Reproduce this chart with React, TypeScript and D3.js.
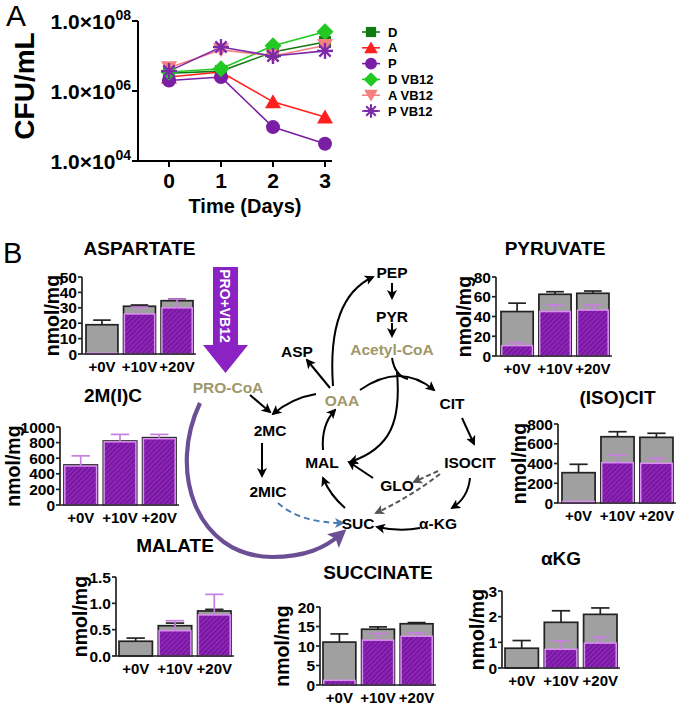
import React from "react";
import * as d3 from "d3";

// ---------- Panel A data ----------
const days = [0, 1, 2, 3];
const seriesNames = ["D", "A", "P", "D VB12", "A VB12", "P VB12"];
const cfuD = [3.2e6, 3.7e6, 1.3e7, 2.5e7];
const cfuA = [2.5e6, 3.5e6, 4.9e5, 1.8e5];
const cfuP = [2.0e6, 2.5e6, 9.3e4, 3.1e4];
const cfuDVB12 = [3.5e6, 4.3e6, 1.95e7, 4.9e7];
const cfuAVB12 = [4.6e6, 1.5e7, 1.0e7, 2.0e7];
const cfuPVB12 = [3.7e6, 1.8e7, 1.0e7, 1.4e7];
const yTickValues = [1e4, 1e6, 1e8];
const yTickExps = ["04", "06", "08"];

// ---------- Panel B data ----------
const groups = ["+0V", "+10V", "+20V"];

const aspTotal = [19, 31, 34.6];
const aspTotalSd = [3, 0.8, 1.2];
const aspLabeled = [0.5, 26, 30];
const aspLabeledSd = [0, 4.5, 5.7];
const aspTicks = [0, 10, 20, 30, 40, 50];

const pyrTotal = [45, 62.5, 63.5];
const pyrTotalSd = [8.5, 2.6, 2.3];
const pyrLabeled = [10.5, 45, 46.5];
const pyrLabeledSd = [3, 6.7, 5];
const pyrTicks = [0, 20, 40, 60, 80];

const micTotal = [513, 820, 863];
const micTotalSd = [0, 0, 0];
const micLabeled = [500, 810, 850];
const micLabeledSd = [130, 95, 55];
const micTicks = [0, 200, 400, 600, 800, 1000];

const citTotal = [307, 671, 665];
const citTotalSd = [85, 51, 41];
const citLabeled = [15, 408, 402];
const citLabeledSd = [0, 78, 51];
const citTicks = [0, 200, 400, 600, 800];

const malTotal = [0.28, 0.575, 0.855];
const malTotalSd = [0.06, 0.05, 0.03];
const malLabeled = [0, 0.48, 0.78];
const malLabeledSd = [0, 0.19, 0.39];
const malTicks = [0, 0.5, 1.0, 1.5];

const sucTotal = [11, 14.3, 15.7];
const sucTotalSd = [2.1, 0.6, 0.3];
const sucLabeled = [1.2, 11.5, 12.5];
const sucLabeledSd = [0, 1.7, 0.9];
const sucTicks = [0, 5, 10, 15, 20];

const akgTotal = [0.77, 1.78, 2.09];
const akgTotalSd = [0.3, 0.45, 0.25];
const akgLabeled = [0, 0.73, 0.97];
const akgLabeledSd = [0, 0.33, 0.23];
const akgTicks = [0, 1, 2, 3];

// ---------- styles ----------
const FONT = "'Liberation Sans', Arial, sans-serif";
const GRAY = "#a0a0a0";
const PURPLE_EDGE = "#dc90f2";
const PURPLE_ERR = "#c87ee0";
const OLIVE = "#a0976a";

const seriesStyles = [
  { color: "#127a12", symbol: "square" },
  { color: "#ff1f1f", symbol: "triangle" },
  { color: "#7a1fa3", symbol: "circle" },
  { color: "#22c922", symbol: "diamond" },
  { color: "#f58080", symbol: "triangleDown" },
  { color: "#7d2aaa", symbol: "asterisk" },
];
const seriesValues = [cfuD, cfuA, cfuP, cfuDVB12, cfuAVB12, cfuPVB12];

function Marker({ kind, color, x, y }: any) {
  if (kind === "square") return <rect x={x - 6} y={y - 6} width={12} height={12} fill={color} />;
  if (kind === "circle") return <circle cx={x} cy={y} r={7} fill={color} />;
  if (kind === "triangle")
    return <path d={`M${x},${y - 7.5} L${x + 8},${y + 6.5} L${x - 8},${y + 6.5}Z`} fill={color} />;
  if (kind === "triangleDown")
    return <path d={`M${x},${y + 7.5} L${x + 8},${y - 6.5} L${x - 8},${y - 6.5}Z`} fill={color} />;
  if (kind === "diamond")
    return <path d={`M${x},${y - 8.5} L${x + 8.5},${y} L${x},${y + 8.5} L${x - 8.5},${y}Z`} fill={color} />;
  const r = 8;
  return (
    <g stroke={color} strokeWidth={2.4}>
      {[0, 45, 90, 135].map((a) => {
        const rad = (a * Math.PI) / 180;
        return (
          <line key={a} x1={x - r * Math.cos(rad)} y1={y - r * Math.sin(rad)} x2={x + r * Math.cos(rad)} y2={y + r * Math.sin(rad)} />
        );
      })}
    </g>
  );
}

function PanelA() {
  const x = d3.scaleLinear().domain([0, 3]).range([169, 325]);
  const y = d3.scaleLog().domain([1e4, 1e8]).range([161, 21]);
  const line = d3
    .line<number>()
    .x((_, i) => x(days[i]))
    .y((d) => y(d));
  const axX = 138;
  return (
    <g>
      <text x={6} y={26} fontFamily={FONT} fontSize={30}>A</text>
      <line x1={axX} y1={y(1e8)} x2={axX} y2={y(1e4)} stroke="#000" strokeWidth={2} />
      <line x1={axX} y1={y(1e4)} x2={332} y2={y(1e4)} stroke="#000" strokeWidth={2} />
      {yTickValues.map((v, i) => (
        <g key={v}>
          <line x1={axX - 6} x2={axX} y1={y(v)} y2={y(v)} stroke="#000" strokeWidth={2} />
          <text x={axX - 7} y={y(v) + 7.5} textAnchor="end" fontFamily={FONT} fontWeight="bold" fontSize={21}>
            1.0×10
            <tspan dy={-9} fontSize={14}>{yTickExps[i]}</tspan>
          </text>
        </g>
      ))}
      {days.map((d) => (
        <g key={d}>
          <line x1={x(d)} x2={x(d)} y1={y(1e4)} y2={y(1e4) + 6} stroke="#000" strokeWidth={2} />
          <text x={x(d)} y={188} textAnchor="middle" fontFamily={FONT} fontWeight="bold" fontSize={21}>{d}</text>
        </g>
      ))}
      <text x={245} y={213} textAnchor="middle" fontFamily={FONT} fontWeight="bold" fontSize={20}>Time (Days)</text>
      <text transform="translate(34,86) rotate(-90)" textAnchor="middle" fontFamily={FONT} fontWeight="bold" fontSize={28}>CFU/mL</text>
      {seriesValues.map((vals, si) => (
        <path key={si} d={line(vals) || ""} fill="none" stroke={seriesStyles[si].color} strokeWidth={1.6} />
      ))}
      {seriesValues.map((vals, si) =>
        vals.map((v, i) => <Marker key={si + "-" + i} kind={seriesStyles[si].symbol} color={seriesStyles[si].color} x={x(days[i])} y={y(v)} />)
      )}
      {seriesNames.map((n, i) => {
        const ly = 32 + i * 15.8;
        return (
          <g key={n}>
            <line x1={362} x2={380} y1={ly} y2={ly} stroke={seriesStyles[i].color} strokeWidth={1.6} />
            <g transform={`translate(${371},${ly}) scale(0.85) translate(${-371},${-ly})`}>
              <Marker kind={seriesStyles[i].symbol} color={seriesStyles[i].color} x={371} y={ly} />
            </g>
            <text x={388} y={ly + 4.5} fontFamily={FONT} fontWeight="bold" fontSize={13}>{n}</text>
          </g>
        );
      })}
    </g>
  );
}

function BarPanel({ p }: any) {
  const y = d3.scaleLinear().domain([0, p.max]).range([p.y0, p.yT]);
  const x = d3.scaleBand<string>().domain(groups).range([p.b0, p.b1]).paddingInner(0.15).paddingOuter(0);
  const bw = x.bandwidth();
  const cap = bw * 0.55;
  const tx = p.titleX ?? (p.b0 + p.b1) / 2;
  return (
    <g>
      <text x={tx} y={p.titleY} textAnchor="middle" fontFamily={FONT} fontWeight="bold" fontSize={19}>{p.title}</text>
      <text transform={`translate(${p.ylabX},${(p.y0 + p.yT) / 2}) rotate(-90)`} textAnchor="middle" dy="0.35em" fontFamily={FONT} fontWeight="bold" fontSize={19.5}>nmol/mg</text>
      {groups.map((g, i) => {
        const bx = x(g) as number;
        const cx = bx + bw / 2;
        const t = p.total[i], ts = p.totalSd[i], l = p.lab[i], ls = p.labSd[i];
        return (
          <g key={g}>
            {ts > 0 && (
              <g stroke="#222" strokeWidth={1.7}>
                <line x1={cx} x2={cx} y1={y(t)} y2={y(t + ts)} />
                <line x1={cx - cap / 2} x2={cx + cap / 2} y1={y(t + ts)} y2={y(t + ts)} />
              </g>
            )}
            <rect x={bx} y={y(t)} width={bw} height={p.y0 - y(t)} fill={GRAY} stroke="#222" strokeWidth={1.7} />
            {l > 0 && (
              <rect x={bx + 0.8} y={y(l)} width={bw - 1.6} height={p.y0 - y(l)} fill="url(#hatch)" stroke={PURPLE_EDGE} strokeWidth={1.5} />
            )}
            {ls > 0 && (
              <g stroke={PURPLE_ERR} strokeWidth={1.7}>
                <line x1={cx} x2={cx} y1={y(l)} y2={y(l + ls)} />
                <line x1={cx - cap / 2} x2={cx + cap / 2} y1={y(l + ls)} y2={y(l + ls)} />
              </g>
            )}
            <text x={cx} y={p.y0 + 17.5} textAnchor="middle" fontFamily={FONT} fontWeight="bold" fontSize={15}>{g}</text>
          </g>
        );
      })}
      <line x1={p.ax} x2={p.ax} y1={p.yT} y2={p.y0} stroke="#222" strokeWidth={1.7} />
      <line x1={p.ax} x2={p.b1 + 3} y1={p.y0} y2={p.y0} stroke="#222" strokeWidth={1.7} />
      {p.ticks.map((t: number) => (
        <g key={t}>
          <line x1={p.ax - 4} x2={p.ax} y1={y(t)} y2={y(t)} stroke="#222" strokeWidth={1.7} />
          <text x={p.ax - 5} y={y(t)} dy="0.36em" textAnchor="end" fontFamily={FONT} fontWeight="bold" fontSize={15.5}>{p.fmt(t)}</text>
        </g>
      ))}
    </g>
  );
}

const intFmt = d3.format("d");
const f1 = d3.format(".1f");

const panels = [
  { title: "ASPARTATE", total: aspTotal, totalSd: aspTotalSd, lab: aspLabeled, labSd: aspLabeledSd, ticks: aspTicks, max: 50, fmt: intFmt, ax: 82, y0: 354, yT: 277, b0: 86, b1: 193, titleY: 255, ylabX: 52 },
  { title: "PYRUVATE", total: pyrTotal, totalSd: pyrTotalSd, lab: pyrLabeled, labSd: pyrLabeledSd, ticks: pyrTicks, max: 80, fmt: intFmt, ax: 496, y0: 356, yT: 277, b0: 501, b1: 609, titleY: 255, ylabX: 464 },
  { title: "2M(I)C", total: micTotal, totalSd: micTotalSd, lab: micLabeled, labSd: micLabeledSd, ticks: micTicks, max: 1000, fmt: intFmt, ax: 60, y0: 505, yT: 427, b0: 64, b1: 176, titleY: 402, titleX: 113, ylabX: 13 },
  { title: "(ISO)CIT", total: citTotal, totalSd: citTotalSd, lab: citLabeled, labSd: citLabeledSd, ticks: citTicks, max: 800, fmt: intFmt, ax: 558, y0: 503, yT: 424, b0: 562, b1: 673, titleY: 404, ylabX: 519 },
  { title: "MALATE", total: malTotal, totalSd: malTotalSd, lab: malLabeled, labSd: malLabeledSd, ticks: malTicks, max: 1.5, fmt: f1, ax: 116, y0: 656, yT: 577, b0: 119, b1: 231, titleY: 552, ylabX: 80 },
  { title: "SUCCINATE", total: sucTotal, totalSd: sucTotalSd, lab: sucLabeled, labSd: sucLabeledSd, ticks: sucTicks, max: 20, fmt: intFmt, ax: 320, y0: 685, yT: 607, b0: 323, b1: 433, titleY: 579, ylabX: 282 },
  { title: "αKG", total: akgTotal, totalSd: akgTotalSd, lab: akgLabeled, labSd: akgLabeledSd, ticks: akgTicks, max: 3, fmt: intFmt, ax: 502, y0: 668, yT: 591, b0: 505, b1: 617, titleY: 565, ylabX: 477 },
];

const nodes = [
  { t: "PEP", x: 392, y: 272, c: "#000" },
  { t: "PYR", x: 392, y: 316, c: "#000" },
  { t: "Acetyl-CoA", x: 392, y: 349, c: OLIVE },
  { t: "ASP", x: 297, y: 351, c: "#000" },
  { t: "OAA", x: 342, y: 400, c: OLIVE },
  { t: "CIT", x: 452, y: 403, c: "#000" },
  { t: "PRO-CoA", x: 228, y: 387, c: OLIVE },
  { t: "2MC", x: 270, y: 430, c: "#000" },
  { t: "2MIC", x: 268, y: 491, c: "#000" },
  { t: "MAL", x: 322, y: 462, c: "#000" },
  { t: "GLO", x: 397, y: 485, c: "#000" },
  { t: "ISOCIT", x: 470, y: 462, c: "#000" },
  { t: "SUC", x: 358, y: 523, c: "#000" },
  { t: "α-KG", x: 438, y: 523, c: "#000" },
];

const solidArrows = [
  "M333,386 C329,330 340,292 373,277",
  "M392,283 L392,298",
  "M392,323 L392,336",
  "M330,388 L307,360",
  "M316,394 Q292,398 273,414",
  "M250,395 L270,412",
  "M360,390 Q400,362 434,390",
  "M397,372 C401,420 392,448 350,462",
  "M462,418 L474,444",
  "M470,478 Q468,498 452,508",
  "M420,528 Q400,532 377,527",
  "M345,508 Q330,495 323,478",
  "M323,450 Q321,425 335,410",
  "M373,478 L349,462",
  "M262,443 L262,476",
];

function Pathway() {
  return (
    <g>
      <text x={3} y={263} fontFamily={FONT} fontSize={29}>B</text>
      <path d="M213,267 L238,267 L238,345 L248,345 L225.5,373 L203,345 L213,345 Z" fill="#8a22c4" />
      <text transform="translate(225.5,306) rotate(90)" textAnchor="middle" dy="0.36em" fill="#fff" fontFamily={FONT} fontWeight="bold" fontSize={14}>PRO+VB12</text>
      <path d="M200,403 C168,470 195,556 272,557 C305,557 325,548 341,534" fill="none" stroke="#6b4f94" strokeWidth={4.2} markerEnd="url(#ahPurple)" />
      <path d="M392,358 Q395,376 408,379" fill="none" stroke="#000" strokeWidth={2} />
      {solidArrows.map((d, i) => (
        <path key={i} d={d} fill="none" stroke="#000" strokeWidth={2} markerEnd="url(#ah)" />
      ))}
      <path d="M438,471 L414,482" fill="none" stroke="#555" strokeWidth={2} strokeDasharray="5,3" markerEnd="url(#ahGray)" />
      <path d="M440,474 Q410,497 376,513" fill="none" stroke="#555" strokeWidth={2} strokeDasharray="5,3" markerEnd="url(#ahGray)" />
      <path d="M278,503 Q300,523 343,523" fill="none" stroke="#4a7db3" strokeWidth={2} strokeDasharray="6,4" markerEnd="url(#ahBlue)" />
      {nodes.map((n) => (
        <text key={n.t} x={n.x} y={n.y} textAnchor="middle" dominantBaseline="central" fill={n.c} fontFamily={FONT} fontWeight="bold" fontSize={15.5}>{n.t}</text>
      ))}
    </g>
  );
}

export default function App() {
  return (
    <svg width={680} height={704} viewBox="0 0 680 704" style={{ position: "absolute", left: 0, top: 0, background: "#fff" }}>
      <defs>
        <pattern id="hatch" patternUnits="userSpaceOnUse" width={3.5} height={3.5} patternTransform="rotate(45)">
          <rect width={3.5} height={3.5} fill="#8c22b6" />
          <line x1={0} y1={0} x2={0} y2={3.5} stroke="#5a0f7c" strokeWidth={1.4} />
        </pattern>
        <marker id="ah" viewBox="0 0 10 10" refX={8} refY={5} markerWidth={10} markerHeight={10} markerUnits="userSpaceOnUse" orient="auto">
          <path d="M0,0 L10,5 L0,10 L2.5,5 Z" fill="#000" />
        </marker>
        <marker id="ahGray" viewBox="0 0 10 10" refX={8} refY={5} markerWidth={10} markerHeight={10} markerUnits="userSpaceOnUse" orient="auto">
          <path d="M0,0 L10,5 L0,10 L2.5,5 Z" fill="#555" />
        </marker>
        <marker id="ahBlue" viewBox="0 0 10 10" refX={8} refY={5} markerWidth={10} markerHeight={10} markerUnits="userSpaceOnUse" orient="auto">
          <path d="M0,0 L10,5 L0,10 L2.5,5 Z" fill="#4a7db3" />
        </marker>
        <marker id="ahPurple" viewBox="0 0 10 10" refX={6} refY={5} markerWidth={18} markerHeight={18} markerUnits="userSpaceOnUse" orient="auto">
          <path d="M0,0 L10,5 L0,10 L2,5 Z" fill="#6b4f94" />
        </marker>
      </defs>
      <PanelA />
      <Pathway />
      {panels.map((p) => (
        <BarPanel key={p.title} p={p} />
      ))}
    </svg>
  );
}
